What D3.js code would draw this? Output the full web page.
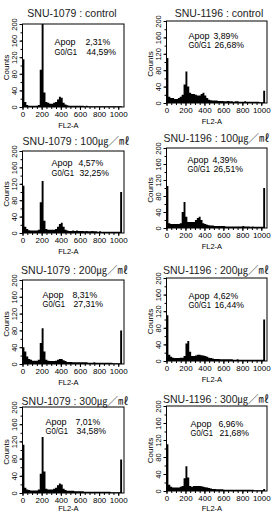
<!DOCTYPE html>
<html><head><meta charset="utf-8">
<script src="https://cdn.jsdelivr.net/npm/d3@7/dist/d3.min.js"></script>
<style>
html,body{margin:0;padding:0;background:#fff;}
svg{display:block;font-family:"Liberation Sans",Arial,"Noto Sans CJK KR",sans-serif;}
</style></head>
<body><svg id="c" width="272" height="512"></svg>
<script>
// ---- data (20-channel bins, starting at channel 0) ----
const binWidth = 20;
const snu1079_control = [115,12,5,3,3,3,3,3,5,90,210,35,12,10,8,8,10,12,18,25,22,10,6,4,
  3,3,3,3,3,3,3,3,2,3,2,2,2,2,2,2,2,2,2,2,2,2,2,2,2,2,2, 2];
const snu1196_control = [110,15,12,12,10,10,12,15,20,45,77,40,25,22,22,20,18,18,22,25,18,12,8,7,
  6,6,6,5,5,5,4,4,5,4,4,3,4,4,3,3,3,4,3,3,3,3,3,3,3,2,2, 30];
const snu1079_100 = [115,15,10,7,6,6,6,6,8,75,127,30,10,8,8,8,8,10,15,22,25,15,8,6,
  5,5,6,5,6,5,5,5,4,5,4,4,5,4,4,3,4,3,3,3,3,3,3,3,3,3,3, 100];
const snu1196_100 = [105,12,10,10,10,10,10,12,40,65,28,15,15,15,15,20,25,28,20,12,10,8,7,6,
  6,5,5,5,5,5,5,4,4,4,4,4,4,4,4,4,5,4,4,4,3,4,3,3,3,3,3, 100];
const snu1079_200 = [40,30,18,12,10,8,8,8,10,50,85,30,10,8,7,7,7,8,10,12,12,9,7,5,
  5,5,4,4,4,4,4,4,4,4,3,3,3,4,3,3,3,3,3,3,3,3,3,2,2,2,2, 80];
const snu1196_200 = [110,15,10,8,7,7,7,8,8,12,42,48,22,12,12,13,15,15,14,13,12,10,8,7,
  6,5,5,5,4,4,4,4,4,4,4,3,3,4,3,3,3,3,3,3,3,3,3,3,3,3,3, 100];
const snu1079_300 = [112,12,8,7,6,6,6,6,8,45,130,50,10,8,8,8,10,12,18,22,20,10,7,5,
  5,5,5,4,4,4,4,4,3,3,3,3,3,3,3,3,3,3,3,3,3,3,2,2,2,2,2, 78];
const snu1196_300 = [110,15,10,8,8,8,8,10,12,30,58,32,12,10,12,12,12,12,11,10,9,8,7,6,
  5,5,4,4,4,4,3,3,3,3,3,3,3,3,3,3,3,3,3,3,3,3,2,2,2,2,2, 5];

const panelTitles = ["SNU-1079 : control","SNU-1196 : control",
  "SNU-1079 : 100㎍／㎖","SNU-1196 : 100㎍／㎖",
  "SNU-1079 : 200㎍／㎖","SNU-1196 : 200㎍／㎖",
  "SNU-1079 : 300㎍／㎖","SNU-1196 : 300㎍／㎖"];
const apopValues = ["2,31%","3,89%","4,57%","4,39%","8,31%","4,62%","7,01%","6,96%"];
const g0g1Values = ["44,59%","26,68%","32,25%","26,51%","27,31%","16,44%","34,58%","21,68%"];
const xTicks = [0,200,400,600,800,1000];
const yTicks = [0,40,80,120,160,200];
const series = [snu1079_control,snu1196_control,snu1079_100,snu1196_100,
  snu1079_200,snu1196_200,snu1079_300,snu1196_300];

// ---- layout (pixels) ----
const layout = [
  {left:22.5,right:124,top:24,bottom:107, tx:72,  ty:17,  ax:32,ay:21,vx:63},
  {left:166.5,right:267,top:21,bottom:103, tx:219, ty:17,  ax:22,ay:17.5,vx:47},
  {left:22.5,right:124,top:151,bottom:233, tx:76,  ty:145, ax:29,ay:15,vx:56},
  {left:166.5,right:267,top:148,bottom:228, tx:216.5,ty:142,ax:21,ay:14.5,vx:46},
  {left:22.5,right:124,top:280,bottom:364, tx:74.5,ty:274, ax:20,ay:17.5,vx:50},
  {left:166.5,right:267,top:278,bottom:361, tx:216, ty:274, ax:22,ay:20.5,vx:47},
  {left:22.5,right:124,top:407,bottom:493, tx:75,  ty:405, ax:23,ay:17.5,vx:53},
  {left:166.5,right:267,top:406,bottom:491, tx:216, ty:403, ax:24,ay:20.5,vx:52}
];

const svg = d3.select("#c");
const defs = svg.append("defs");

series.forEach((vals, p) => {
  const L = layout[p];
  const x = d3.scaleLinear().domain([0,1060]).range([L.left, L.right]);
  const y = d3.scaleLinear().domain([0,200]).range([L.bottom, L.top]);
  const g = svg.append("g");

  defs.append("clipPath").attr("id","clip"+p).append("rect")
    .attr("x",L.left).attr("y",L.top).attr("width",L.right-L.left).attr("height",L.bottom-L.top);

  const pts = vals.map((v,i)=>[i*binWidth, v]);
  pts.push([vals.length*binWidth, vals[vals.length-1]]);
  const area = d3.area().x(d=>x(d[0])).y0(y(0)).y1(d=>y(d[1])).curve(d3.curveStepAfter);
  g.append("path").attr("d", area(pts)).attr("fill","#000")
    .attr("clip-path","url(#clip"+p+")");

  // frame
  g.append("rect").attr("x",L.left).attr("y",L.top)
    .attr("width",L.right-L.left).attr("height",L.bottom-L.top)
    .attr("fill","none").attr("stroke","#000").attr("stroke-width",1);

  // x axis
  const xa = g.append("g").attr("transform",`translate(0,${L.bottom})`)
    .call(d3.axisBottom(x).tickValues(xTicks).tickSize(3).tickPadding(1).tickFormat(d3.format("d")));
  xa.select(".domain").remove();
  xa.selectAll("text").attr("font-size",8).attr("fill","#000").attr("font-family",null);
  const xm = g.append("g").attr("transform",`translate(0,${L.bottom})`)
    .call(d3.axisBottom(x).tickValues(d3.range(0,1001,50)).tickSize(2).tickFormat(""));
  xm.select(".domain").remove();

  // y axis
  const ya = g.append("g").attr("transform",`translate(${L.left},0)`)
    .call(d3.axisLeft(y).tickValues(yTicks).tickSize(3));
  ya.select(".domain").remove();
  ya.selectAll("text").attr("x",0).attr("dy",null).attr("y",0)
    .attr("transform","translate(-6,0) rotate(-90)")
    .attr("text-anchor","middle").attr("font-size",7.5).attr("fill","#000").attr("font-family",null);
  const ym = g.append("g").attr("transform",`translate(${L.left},0)`)
    .call(d3.axisLeft(y).tickValues(d3.range(0,201,20)).tickSize(2).tickFormat(""));
  ym.select(".domain").remove();

  // axis titles
  g.append("text").attr("transform",`translate(${L.left-14},${(L.top+L.bottom)/2+2}) rotate(-90)`)
    .attr("text-anchor","middle").attr("font-size",8).text("Counts");
  g.append("text").attr("x",x(500)-2).attr("y",Math.min(L.bottom+20.5, 511.3))
    .attr("text-anchor","middle").attr("font-size",7.5).text("FL2-A");

  // panel title
  g.append("text").attr("x",L.tx).attr("y",L.ty).attr("text-anchor","middle")
    .attr("font-size",10.5).attr("fill","#222").text(panelTitles[p]);

  // annotations
  const fs = 8.7;
  g.append("text").attr("x",L.left+L.ax).attr("y",L.top+L.ay).attr("font-size",fs)
    .attr("textLength",21).attr("lengthAdjust","spacingAndGlyphs").text("Apop");
  g.append("text").attr("x",L.left+L.vx).attr("y",L.top+L.ay).attr("font-size",fs).text(apopValues[p]);
  g.append("text").attr("x",L.left+L.ax).attr("y",L.top+L.ay+9.5).attr("font-size",fs)
    .attr("textLength",22.5).attr("lengthAdjust","spacingAndGlyphs").text("G0/G1");
  g.append("text").attr("x",L.left+L.vx+1).attr("y",L.top+L.ay+9.5).attr("font-size",fs).text(g0g1Values[p]);
});
</script></body></html>
